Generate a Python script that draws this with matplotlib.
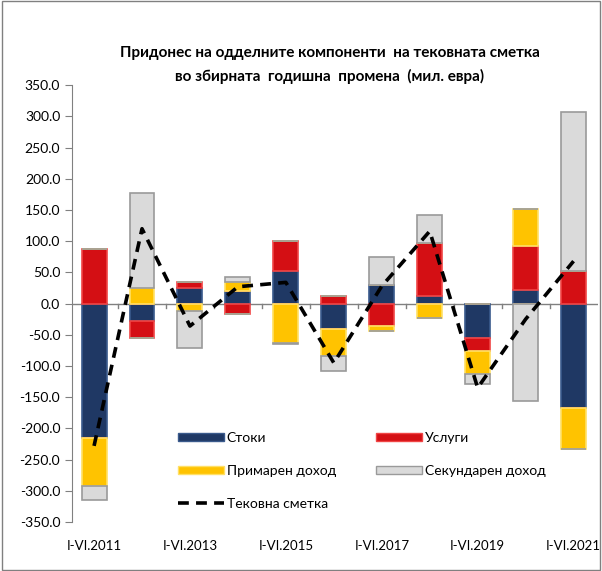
import numpy as np
import matplotlib
matplotlib.use("Agg")
import matplotlib.pyplot as plt
from matplotlib.patches import Patch
from matplotlib.lines import Line2D

plt.rcParams['font.family'] = ['Lato', 'DejaVu Sans']

# data (mil. EUR)
periods = ["I-VI.2011", "I-VI.2012", "I-VI.2013", "I-VI.2014", "I-VI.2015", "I-VI.2016",
           "I-VI.2017", "I-VI.2018", "I-VI.2019", "I-VI.2020", "I-VI.2021"]
goods = [-215, -28, 25, 20, 52, -41, 30, 12, -55, 21, -167]
services = [88, -27, 9, -16, 48, 12, -36, 85, -21, 72, 52]
primary = [-78, 25, -12, 15, -63, -43, -8, -23, -37, 59, -66]
secondary = [-22, 152, -59, 8, -2, -24, 45, 45, -16, -156, 255]
current = [-228, 120, -36, 27, 34, -95, 28, 116, -135, -25, 68]

names = ["Стоки", "Услуги", "Примарен доход", "Секундарен доход"]
colors = ["#1F3864", "#D40F14", "#FFC300", "#DADADA"]
edges = ["#3A5A8C", "#F04545", "#FFE066", "#9A9A9A"]

fig = plt.figure(figsize=(6.02, 5.71), dpi=100)
ax = fig.add_axes([0.1196, 0.0858, 0.873, 0.765])

x = np.arange(len(periods))
w = 0.52
pos_base = np.zeros(len(x))
neg_base = np.zeros(len(x))
for series, c, ec in zip([goods, services, primary, secondary], colors, edges):
    v = np.array(series, dtype=float)
    p = np.where(v > 0, v, 0)
    n = np.where(v < 0, v, 0)
    ax.bar(x, p, w, bottom=pos_base, color=c, edgecolor=ec, linewidth=1.2, zorder=2)
    ax.bar(x, n, w, bottom=neg_base, color=c, edgecolor=ec, linewidth=1.2, zorder=2)
    pos_base += p
    neg_base += n

ax.plot(x, current, color="black", linestyle=(0, (3, 2)), linewidth=2.6, zorder=3)

# category axis at zero
ax.axhline(0, color="#808080", linewidth=1, zorder=1)
for b in np.arange(0.5, len(x) - 0.5, 1):
    ax.plot([b, b], [0, -7], color="#808080", linewidth=1, zorder=1)

ax.set_xlim(-0.46, 10.5)
ax.set_ylim(-350, 350)
ax.set_yticks(np.arange(-350, 351, 50))
ax.set_yticklabels([f"{t:.1f}" for t in np.arange(-350, 351, 50)], fontsize=10)
ax.set_xticks(x[::2])
ax.set_xticklabels(periods[::2], fontsize=9.5)
ax.tick_params(axis="x", length=0, pad=13)
ax.tick_params(axis="y", length=5, color="#808080", direction="out")
for s in ["top", "right", "bottom"]:
    ax.spines[s].set_visible(False)
ax.spines["left"].set_color("#808080")

fig.text(0.548, 0.907, "Придонес на одделните компоненти  на тековната сметка",
         ha="center", va="center", fontsize=11, fontweight="bold")
fig.text(0.548, 0.866, "во збирната  годишна  промена  (мил. евра)",
         ha="center", va="center", fontsize=11, fontweight="bold")

handles = [Patch(facecolor=colors[0], edgecolor=edges[0]),
           Patch(facecolor=colors[2], edgecolor=edges[2]),
           Line2D([], [], color="black", linestyle=(0, (3, 2)), linewidth=2.6),
           Patch(facecolor=colors[1], edgecolor=edges[1]),
           Patch(facecolor=colors[3], edgecolor=edges[3])]
labels = [names[0], names[2], "Тековна сметка", names[1], names[3]]
fig.legend(handles, labels, ncol=2, loc="upper left", bbox_to_anchor=(0.275, 0.265),
           frameon=False, fontsize=10, handlelength=3.3, handleheight=0.5,
           labelspacing=1.5, columnspacing=2.9, handletextpad=0.2)

# outer frame
fig.patches.append(plt.Rectangle((0.004, 0.002), 0.992, 0.996, transform=fig.transFigure,
                                 fill=False, edgecolor="#808080", linewidth=1))

fig.savefig("out.png", dpi=100)
